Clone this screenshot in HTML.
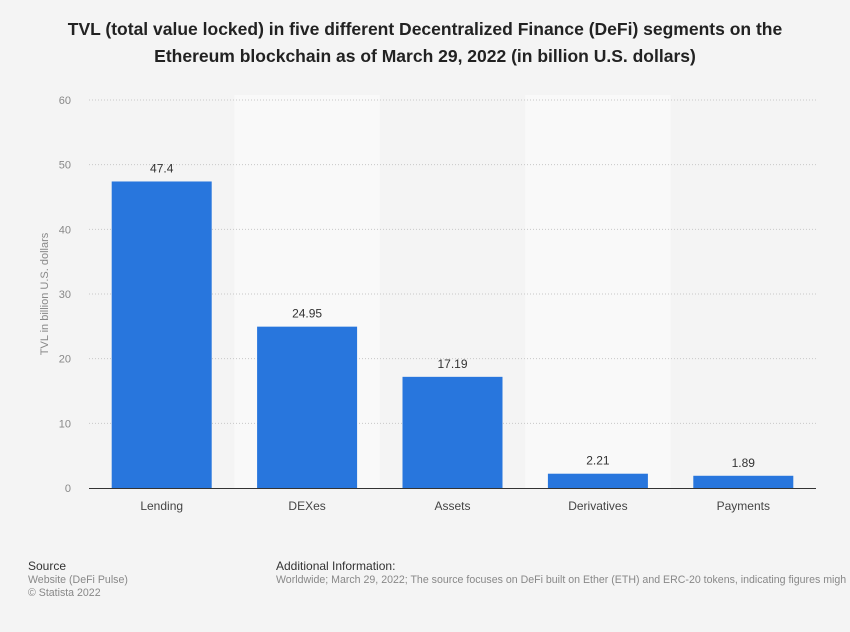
<!DOCTYPE html>
<html><head><meta charset="utf-8"><style>
body{margin:0;background:#f4f4f4;font-family:"Liberation Sans",sans-serif;}
#wrap{position:relative;width:850px;height:632px;overflow:hidden;background:#f4f4f4;}
h1{position:absolute;left:0;top:16px;width:850px;margin:0;text-align:center;font-size:17.5px;line-height:27px;font-weight:bold;color:#222;}
.foot{position:absolute;font-size:10.6px;line-height:13px;color:#888;white-space:nowrap;}
.foot b{font-weight:normal;color:#333;font-size:12px;}
</style></head><body>
<div id="wrap">
<h1>TVL (total value locked) in five different Decentralized Finance (DeFi) segments on the<br>Ethereum blockchain as of March 29, 2022 (in billion U.S. dollars)</h1>
<svg id="chart" width="850" height="632" style="position:absolute;left:0;top:0"></svg>
<div class="foot" style="left:28px;top:560px"><b>Source</b><br>Website (DeFi Pulse)<br>© Statista 2022</div>
<div class="foot" style="left:276px;top:560px"><b>Additional Information:</b><br>Worldwide; March 29, 2022; The source focuses on DeFi built on Ether (ETH) and ERC-20 tokens, indicating figures migh</div>
</div>
<script>
const categories=["Lending","DEXes","Assets","Derivatives","Payments"];
const values=[47.4,24.95,17.19,2.21,1.89];
const valueLabels=["47.4","24.95","17.19","2.21","1.89"];
const yTicks=[0,10,20,30,40,50,60];
const NS="http://www.w3.org/2000/svg";
const svg=document.getElementById("chart");
const X0=89,X1=816,Y0=488,Y1=100,YMAX=60;
const bw=(X1-X0)/categories.length;
const y=v=>Y0-(v/YMAX)*(Y0-Y1);
const xc=i=>X0+bw*(i+0.5);
function mk(t,a){const e=document.createElementNS(NS,t);for(const k in a)e.setAttribute(k,a[k]);svg.appendChild(e);return e;}
categories.forEach((c,i)=>{if(i%2==1){const r=mk("rect",{x:X0+bw*i,y:Y1-5,width:bw,height:Y0-Y1+5,fill:"#f9f9f9"});

}});
yTicks.forEach(t=>{
 if(t>0){const l=mk("line",{x1:X0,x2:X1,y1:y(t),y2:y(t),stroke:"#c8c8c8","stroke-dasharray":"1,2"});
 
 }
 const tx=mk("text",{x:71,y:y(t)+4,"text-anchor":"end","font-size":"11",fill:"#888"});tx.textContent=t;
 
 
});
const yt=mk("text",{x:0,y:0,transform:"translate(48,294) rotate(-90)","text-anchor":"middle","font-size":"11",fill:"#888"});
yt.textContent="TVL in billion U.S. dollars";


categories.forEach((c,i)=>{
 const b=mk("rect",{x:xc(i)-50,y:y(values[i]),width:100,height:Y0-y(values[i]),fill:"#2876dd"});
 
 
 const v=mk("text",{x:xc(i),y:y(values[i])-9,"text-anchor":"middle","font-size":"12",fill:"#333"});v.textContent=valueLabels[i];
 
 
 const l=mk("text",{x:xc(i),y:510,"text-anchor":"middle","font-size":"12",fill:"#444"});l.textContent=c;
 
 
});
const ax=mk("line",{x1:X0,x2:X1,y1:Y0+0.5,y2:Y0+0.5,stroke:"#333"});


</script>
</body></html>
